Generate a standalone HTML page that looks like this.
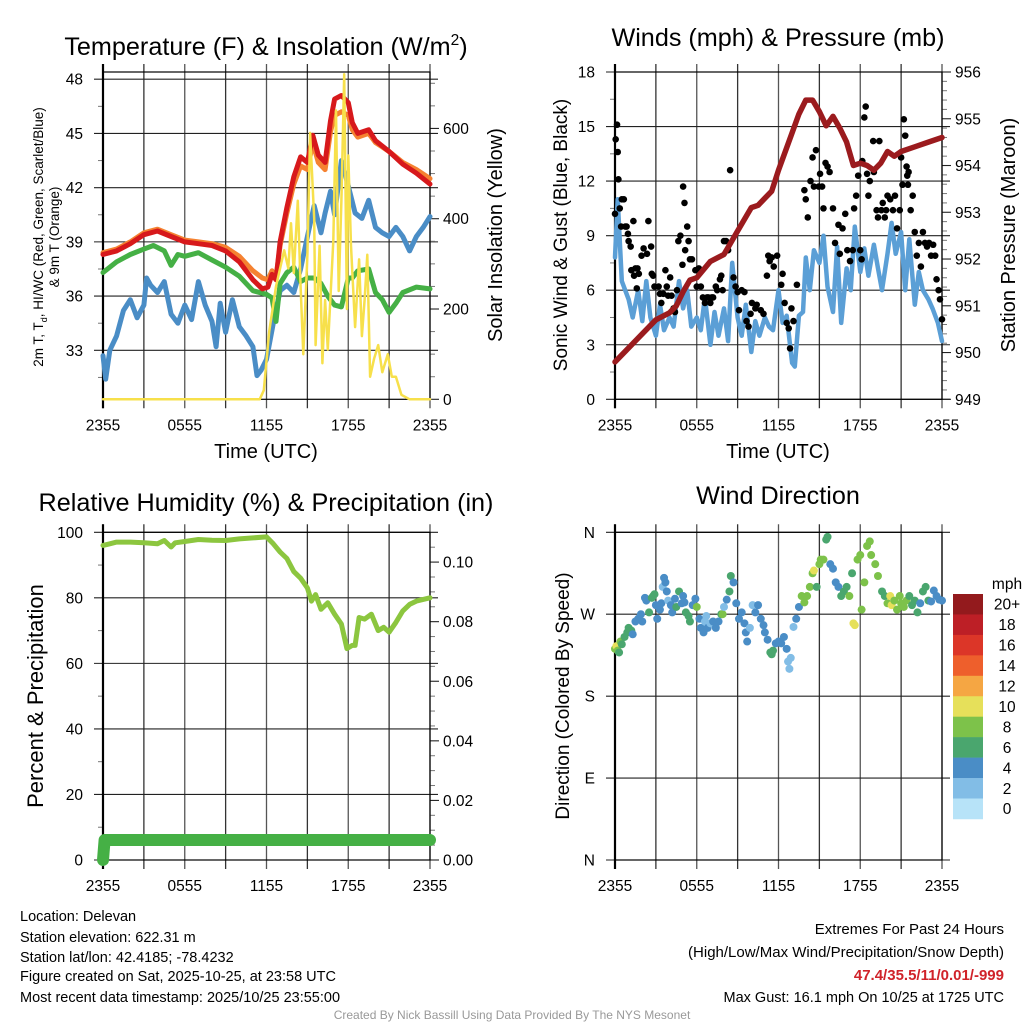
<!DOCTYPE html>
<html><head><meta charset="utf-8"><style>
html,body{margin:0;padding:0;background:#fff;}
svg{display:block;font-family:"Liberation Sans",Arial,sans-serif;}
</style></head><body>
<svg id="chart" width="1024" height="1024" viewBox="0 0 1024 1024" xmlns="http://www.w3.org/2000/svg"></svg>
<script>
// ---------- data ----------
const tTimes=[0,1,2,3,4,5,6,7,8,9,10,11,11.7,12.1,12.4,12.7,13,13.5,14,14.5,15,15.4,15.8,16.3,16.7,17,17.5,18,18.3,18.7,19.5,20,21,22,23,24];
const tRed=[38.3,38.5,38.9,39.4,39.6,39.3,39.0,38.9,38.8,38.5,37.9,36.9,36.4,36.5,37.2,36.9,39.0,40.9,42.6,43.7,43.4,44.9,43.8,43.4,45.7,46.9,47.1,46.7,45.6,45.0,45.2,44.6,44.0,43.3,42.8,42.2];
const tOrange=[38.4,38.6,39.0,39.5,39.7,39.4,39.1,39.0,38.9,38.7,38.2,37.4,37.0,36.9,37.4,37.0,38.8,40.6,42.2,43.2,43.0,44.5,43.4,43.0,45.1,46.0,46.2,46.0,45.2,44.8,45.0,44.5,44.0,43.4,43.0,42.5];
const gTimes=[0,1,2,3,3.7,4.5,5,5.5,6,7,8,9,10,11,12,12.4,12.7,13,13.5,14,14.5,15,15.5,16,16.5,17,17.5,18,18.3,18.7,19.5,20,20.5,21,21.5,22,23,24];
const tGreen=[37.3,37.9,38.3,38.6,38.8,38.5,37.7,38.3,38.2,38.4,38.0,37.6,37.1,36.3,36.1,35.9,34.6,36.7,37.3,37.6,36.8,37.0,37.0,36.7,36.0,35.5,35.4,37.0,37.0,37.4,37.5,36.2,35.8,35.1,35.6,36.2,36.5,36.4];
const bTimes=[0,0.2,0.5,1,1.5,2,2.5,3,3.2,3.5,4,4.5,5,5.5,6,6.5,7,7.5,8,8.3,8.6,9,9.5,10,10.5,11,11.3,11.6,12,12.5,13,13.5,14,14.5,15,15.5,16,16.3,16.7,17,17.5,18,18.5,19,19.5,20,20.5,21,21.5,22,22.5,23,23.5,24];
const tBlue=[32.7,31.4,33.0,33.8,35.2,35.8,34.8,35.5,37.0,36.6,36.2,36.8,35.0,34.5,35.5,34.7,36.8,35.5,34.6,33.2,35.6,34.0,35.8,34.3,33.8,33.2,31.6,31.9,32.5,34.5,36.3,36.6,36.2,37.5,39.3,41.0,39.5,40.6,41.8,40.5,43.5,42.1,40.6,40.3,41.3,39.8,39.5,39.3,39.8,39.3,38.5,39.3,39.8,40.4];
const sTimes=[0,11.5,11.8,12.2,12.7,13.3,13.6,13.8,14,14.3,14.5,14.7,15,15.2,15.5,15.6,15.9,16.1,16.3,16.5,16.9,17.1,17.3,17.5,17.7,17.9,18,18.2,18.5,18.8,19,19.2,19.4,19.6,19.9,20.2,20.5,20.9,21.2,21.5,21.9,22.5,24];
const solar=[0,0,20,150,250,330,290,390,280,440,250,100,320,590,400,120,340,80,220,110,350,640,240,440,720,200,540,340,160,310,140,220,320,50,90,120,60,100,50,50,10,0,0];
const pTimes=[0,0.5,1,2,2.5,3,4,4.5,5,5.5,6,7,8,8.5,9,10,10.5,11,11.5,12,13,13.5,14,14.5,15,15.5,16,16.5,17,17.5,18,18.5,19,19.5,20,20.5,21,22,23,24];
const pressure=[949.8,949.95,950.1,950.4,950.55,950.7,950.85,951.0,951.3,951.55,951.6,951.95,952.1,952.35,952.6,953.1,953.15,953.3,953.45,953.9,954.7,955.1,955.4,955.4,955.15,954.85,955.05,954.8,954.5,954.0,954.05,954.0,953.9,954.05,954.3,954.2,954.3,954.4,954.5,954.6];
const wTimes=[0,0.2,0.5,1,1.3,1.7,2,2.3,2.6,3,3.3,3.6,4,4.3,4.7,5,5.3,5.6,6,6.3,6.6,7,7.3,7.6,8,8.3,8.6,9,9.3,9.6,10,10.3,10.6,11,11.3,11.6,12,12.3,12.6,13,13.2,13.5,13.8,14,14.3,14.6,15,15.3,15.6,16,16.3,16.6,17,17.3,17.6,18,18.3,18.6,19,19.3,19.6,20,20.3,20.6,21,21.3,21.6,22,22.3,22.6,23,23.3,23.7,24];
const windSpd=[7.8,11,6.5,5.5,4.5,6.0,4.3,6.5,4.5,3.5,5.2,3.8,4.5,4.0,6.5,5.0,6.0,4.0,4.5,3.8,5.6,3.0,4.8,3.5,5.0,3.2,7.5,4.5,3.5,5.2,2.6,4.3,3.5,4.5,4.0,3.8,6.0,4.2,4.6,2.0,1.8,4.6,4.8,7.8,6.0,8.2,7.5,9.0,6.2,4.8,8.4,4.2,7.2,6.0,9.5,7.0,8.3,6.8,8.5,7.2,6.0,8.0,9.7,8.0,9.2,6.0,8.8,5.2,7.0,6.0,5.5,5.0,4.2,3.2];
const gustTimes=[0,0.05,0.15,0.2,0.25,0.35,0.5,0.65,0.45,0.75,0.85,0.95,1.0,1.15,1.35,1.2,1.4,1.5,1.65,1.75,1.6,1.95,2.1,2.35,2.45,2.65,2.7,2.8,2.9,3.2,3.3,3.4,3.55,3.7,3.8,3.9,4.05,4.15,4.3,4.4,4.55,4.65,4.8,4.95,5.0,5.1,5.15,5.3,5.4,5.5,5.65,5.9,6.0,6.15,6.3,6.45,6.6,6.75,6.85,7.0,7.1,7.2,7.4,7.5,7.7,7.8,7.9,8.0,8.15,8.3,8.45,8.7,8.85,9.0,9.1,9.3,9.5,9.65,9.8,9.95,10.05,10.3,10.4,10.7,10.9,11.15,11.25,11.35,11.5,11.65,11.9,12.2,12.3,12.45,12.6,12.75,12.85,12.95,13.1,13.35,13.9,14.0,14.15,14.35,14.5,14.6,14.75,14.95,15.05,15.2,15.3,15.45,15.6,15.75,16.0,16.15,16.4,16.5,16.7,16.9,17.05,17.25,17.45,17.55,17.7,17.85,18.0,18.1,18.15,18.3,18.4,18.5,18.6,18.7,18.95,19.0,19.2,19.3,19.4,19.55,19.65,19.8,19.9,20.0,20.2,20.4,20.55,20.7,20.9,21.0,21.1,21.2,21.3,21.4,21.45,21.5,21.55,21.7,21.85,22.0,22.15,22.3,22.45,22.6,22.75,22.9,23.05,23.2,23.35,23.5,23.6,23.75,23.85,24.0];
const gustSpd=[10.2,14.3,15.1,13.6,12.1,10.5,11,11,9.5,9.5,9.5,9.1,8.7,8.4,9.8,7.1,6.8,7.2,7.2,6.9,6.1,7.9,8.3,8.0,9.8,8.4,6.9,6.8,6.2,6.2,5.8,5.3,5.8,7.1,6.2,5.7,6.7,5.7,5.0,4.8,6.0,8.7,9.0,7.4,11.7,10.8,8.2,9.5,8.7,7.7,7.7,7.1,6.2,7.2,6.2,5.6,5.3,5.6,5.6,5.3,5.6,5.6,6.2,6.0,6.6,6.8,6.0,8.7,8.7,8.2,12.6,6.7,6.2,5.9,4.9,6.0,5.9,4.3,4.0,4.7,5.3,5.0,5.2,4.9,4.7,6.8,7.9,7.6,7.8,7.3,7.9,6.3,6.9,5.3,4.2,3.9,2.8,5.0,4.3,6.3,11.5,11.0,10.0,12.0,13.3,11.7,13.7,11.7,12.4,11.7,10.5,13.0,12.8,12.5,10.5,8.6,9.6,8.0,9.4,10.2,8.2,7.6,8.2,10.5,11.2,12.3,8.2,7.7,13.1,15.5,16.1,12.4,11.2,12.0,14.2,12.5,10.4,10.0,14.2,10.4,10.8,10.0,10.4,11.2,11.0,10.4,11.2,9.4,10.4,13.3,11.8,15.4,14.5,12.8,12.3,11.8,12.5,10.4,11.2,9.2,7.9,8.6,7.3,9.2,8.6,8.4,8.6,7.9,8.5,7.9,6.6,6.0,5.5,4.4];
const rhTimes=[0,0.5,1,2,3,4,4.5,5,5.3,6,7,8,9,10,11,12,12.5,13,13.5,14,14.5,15,15.3,15.6,16,16.5,17,17.5,17.9,18.3,18.5,18.8,19.2,19.7,20.2,20.6,21,21.5,22,22.5,23,24];
const rh=[96,96.5,97,97,96.8,96.5,97.5,95.5,96.8,97.2,97.8,97.6,97.5,98,98.3,98.6,96.5,94,92,88,86,83,79,81,76.5,78.5,75,72,64.5,65.5,65.5,74,73.5,75,70,71,69.5,72.5,76,78,79,80];
const precipTimes=[0,0.05,0.12,24];
const precip=[0,0.003,0.0067,0.0067];
const dirTimes=[0,0.1,0.2,0.3,0.4,0.5,0.7,0.9,1.0,1.2,1.3,1.5,1.7,1.9,2.0,2.2,2.3,2.5,2.7,2.8,2.9,3.0,3.1,3.3,3.4,3.5,3.6,3.7,3.8,3.9,4.1,4.2,4.4,4.5,4.7,4.9,5.0,5.1,5.2,5.4,5.5,5.7,5.9,6.0,6.2,6.3,6.5,6.6,6.7,6.8,7.0,7.2,7.4,7.6,7.8,7.9,8.0,8.2,8.4,8.5,8.7,8.9,9.1,9.3,9.5,9.6,9.7,9.9,10.1,10.3,10.5,10.7,10.9,11.0,11.2,11.4,11.5,11.6,11.8,12.0,12.2,12.4,12.6,12.7,12.8,12.9,13.1,13.3,13.5,13.7,13.9,14.1,14.3,14.5,14.6,14.8,15.0,15.1,15.3,15.5,15.6,15.8,16.0,16.2,16.4,16.6,16.8,17.0,17.2,17.4,17.5,17.6,17.8,18.0,18.1,18.3,18.5,18.7,18.8,19.1,19.3,19.6,19.8,20.0,20.2,20.3,20.5,20.7,20.9,21.0,21.2,21.4,21.6,21.8,22.0,22.2,22.4,22.6,22.8,23.0,23.2,23.4,23.6,23.8,24.0];
const dirDeg=[232,235,230,228,240,237,245,250,255,252,248,262,265,270,262,288,285,272,288,290,292,280,265,275,282,300,310,305,295,285,280,272,287,278,295,282,290,283,272,268,262,280,287,278,265,255,250,262,268,255,260,262,255,262,270,270,278,286,295,312,305,282,265,272,260,250,240,255,280,272,280,265,258,250,242,228,226,230,238,240,238,245,232,218,210,222,256,265,278,290,283,290,300,315,318,300,325,330,330,352,355,325,320,305,300,290,295,300,290,315,260,258,330,335,275,305,345,350,335,325,312,295,290,282,290,280,285,275,290,282,278,285,290,280,285,272,282,295,300,285,284,296,290,286,285];
const dirSpd=[8,10,8,7,8,6,6,6,6,6,4,4,4,4,4,4,4,6,6,6,6,4,4,4,4,3,4,4,4,3,4,4,4,6,6,4,4,4,6,6,6,4,4,8,4,4,4,3,3,4,3,4,4,4,6,8,3,4,6,6,4,4,4,4,4,4,4,3,3,4,4,4,4,4,4,6,6,6,4,4,4,4,4,3,3,3,3,4,4,8,8,8,8,8,10,6,8,8,8,6,6,4,4,4,4,6,6,6,8,6,10,10,8,8,8,8,8,8,8,8,8,6,6,8,10,10,8,8,8,8,8,8,6,6,6,6,4,6,6,6,4,4,4,4,4,4];
const cbLabels=["20+","18","16","14","12","10","8","6","4","2","0"];
const cbColors=["#931a1d","#bd1f26","#dc3628","#ee5f2c","#f5a643","#e6e05a","#7dc24a","#4aa66e","#4a8dc6","#82bde6","#b7e3f8"];
const xTickLabels=["2355","0555","1155","1755","2355"];

// ---------- helpers ----------
const NS="http://www.w3.org/2000/svg";
const svg=document.getElementById('chart');
function mk(tag,attrs,parent){const e=document.createElementNS(NS,tag);for(const k in attrs)e.setAttribute(k,attrs[k]);(parent||svg).appendChild(e);return e;}
function txt(x,y,s,size,anchor,parent,extra){const e=mk('text',Object.assign({x:x,y:y,'font-size':size,'text-anchor':anchor||'middle',fill:'#000'},extra||{}),parent);e.textContent=s;return e;}
function lin(d0,d1,r0,r1){return v=>r0+(v-d0)/(d1-d0)*(r1-r0);}
function polyline(xs,ys,xf,yf,color,w,parent,name){
  const pts=xs.map((t,i)=>xf(t).toFixed(1)+','+yf(ys[i]).toFixed(1)).join(' ');
  const p=mk('polyline',{points:pts,fill:'none',stroke:color,'stroke-width':w,'stroke-linejoin':'round','stroke-linecap':'round'},parent);
  
  
  return p;
}
function panel(name){
  const g=mk('g',{});
  
  
  return g;
}
function frame(g,L,T,R,B,leftMajor,leftY,leftLabels,leftMinor,rightMajor,rightY,rightLabels,rightMinor){
  const grid=mk('g',{},g);
  
  
  for(let i=0;i<=8;i++){const x=L+(R-L)*i/8;
    mk('line',{x1:x,y1:T-8,x2:x,y2:B+9,stroke:i%2?'#333':'#555','stroke-width':1.3},grid);}
  leftMajor.forEach((v,i)=>{const y=leftY(v);
    mk('line',{x1:L-9,y1:y,x2:R+8,y2:y,stroke:'#222','stroke-width':1.1},grid);
    const t=txt(L-20,y+5.5,leftLabels[i],15.5,'end',g);
    
    });
  leftMinor.forEach(v=>{const y=leftY(v);mk('line',{x1:L-5,y1:y,x2:L,y2:y,stroke:'#777','stroke-width':1},grid);});
  if(rightMajor){
    rightMajor.forEach((v,i)=>{const y=rightY(v);
      mk('line',{x1:R,y1:y,x2:R+9,y2:y,stroke:'#222','stroke-width':1.1},grid);
      const t=txt(R+13,y+5.5,rightLabels[i],15.5,'start',g);
      
      });
    rightMinor.forEach(v=>{const y=rightY(v);mk('line',{x1:R,y1:y,x2:R+5,y2:y,stroke:'#777','stroke-width':1},grid);});
  }
  mk('rect',{x:L,y:T,width:R-L,height:B-T,fill:'none',stroke:'#000','stroke-width':1.2},g);
  mk('line',{x1:L,y1:T-8,x2:L,y2:B+9,stroke:'#000','stroke-width':2.2},g);
  xTickLabels.forEach((s,i)=>{const t=txt(L+(R-L)*i/4,B+31,s,15.5,'middle',g);
    
    });
}
function vtitle(x,y,s,size,parent,name){const t=txt(x,y,s,size,'middle',parent,{transform:`rotate(-90 ${x} ${y})`});
  return t;}

// ---------- Panel 1: Temperature ----------
(function(){
  const L=103,T=72,R=430,B=399.3;
  const g=panel('temperature-panel');
  const x=lin(0,24,L,R), y=lin(30.29,48.4,B,T), yr=lin(0,725,B,T);
  frame(g,L,T,R,B,[33,36,39,42,45,48],y,["33","36","39","42","45","48"],[31.5,34.5,37.5,40.5,43.5,46.5],
    [0,200,400,600],yr,["0","200","400","600"],[50,100,150,250,300,350,450,500,550,650,700]);
  const ti=txt(266,55,'Temperature (F) & Insolation (W/m',25.2,'middle',g);
  const sup=mk('tspan',{'font-size':15.5,dy:-10},ti);sup.textContent='2';
  const cl=mk('tspan',{'font-size':25.2,dy:10},ti);cl.textContent=')';
  
  const at=txt(266,458,'Time (UTC)',20,'middle',g);
  const lt=mk('text',{x:43,y:237,'font-size':13.5,'text-anchor':'middle',transform:'rotate(-90 43 237)'},g);
  lt.innerHTML='2m T, T<tspan font-size="9" dy="4">d</tspan><tspan dy="-4">, HI/WC (Red, Green, Scarlet/Blue)</tspan>';
  
  const lt2=txt(59,237,'& 9m T (Orange)',13.5,'middle',g,{transform:'rotate(-90 59 237)'});
  
  vtitle(502,235,'Solar Insolation (Yellow)',20,g,'insolation-axis-title');
  polyline(bTimes,tBlue,x,y,'#4a8dc6',5,g,'scarlet-blue-line');
  polyline(gTimes,tGreen,x,y,'#45b045',5,g,'green-line');
  polyline(tTimes,tOrange,x,y,'#f58231',5,g,'orange-9m-temp-line');
  polyline(tTimes,tRed,x,y,'#d7191c',5,g,'red-2m-temp-line');
  polyline(sTimes,solar,x,yr,'#f7e04b',2.5,g,'solar-insolation-line');
})();

// ---------- Panel 2: Winds ----------
(function(){
  const L=615,T=72,R=942,B=399.3;
  const g=panel('winds-panel');
  const x=lin(0,24,L,R), y=lin(0,18,B,T), yp=lin(949,956,B,T);
  frame(g,L,T,R,B,[0,3,6,9,12,15,18],y,["0","3","6","9","12","15","18"],[1.5,4.5,7.5,10.5,13.5,16.5],
    [949,950,951,952,953,954,955,956],yp,["949","950","951","952","953","954","955","956"],
    [949.2,949.4,949.6,949.8,950.2,950.4,950.6,950.8,951.2,951.4,951.6,951.8,952.2,952.4,952.6,952.8,953.2,953.4,953.6,953.8,954.2,954.4,954.6,954.8,955.2,955.4,955.6,955.8]);
  const ti=txt(778,46,'Winds (mph) & Pressure (mb)',25.2,'middle',g);
  const at=txt(778,458,'Time (UTC)',20,'middle',g);
  vtitle(567,235,'Sonic Wind & Gust (Blue, Black)',19,g,'wind-axis-title');
  vtitle(1015,235,'Station Pressure (Maroon)',20,g,'pressure-axis-title');
  polyline(wTimes,windSpd,x,y,'#5b9fd6',4.5,g,'sonic-wind-line');
  gustTimes.forEach((t,i)=>{const c=mk('circle',{cx:x(t),cy:y(gustSpd[i]),r:3.3,fill:'#000'},g);
    
    });
  polyline(pTimes,pressure,x,yp,'#9b1b1e',5.5,g,'pressure-line');
})();

// ---------- Panel 3: RH ----------
(function(){
  const L=103,T=532.3,R=430,B=860;
  const g=panel('humidity-panel');
  const x=lin(0,24,L,R), y=lin(0,100,B,T), yr=lin(0,0.11,B,T);
  frame(g,L,T,R,B,[0,20,40,60,80,100],y,["0","20","40","60","80","100"],[10,30,50,70,90],
    [0,0.02,0.04,0.06,0.08,0.10],yr,["0.00","0.02","0.04","0.06","0.08","0.10"],[0.005,0.01,0.015,0.025,0.03,0.035,0.045,0.05,0.055,0.065,0.07,0.075,0.085,0.09,0.095,0.105]);
  const ti=txt(266,511,'Relative Humidity (%) & Precipitation (in)',25.2,'middle',g);
  vtitle(43,696,'Percent & Precipitation',22,g,'percent-axis-title');
  polyline(rhTimes,rh,x,y,'#8cc63f',5,g,'relative-humidity-line');
  polyline(precipTimes,precip,x,yr,'#45b045',12,g,'precipitation-line');
})();

// ---------- Panel 4: Wind direction ----------
(function(){
  const L=615,T=532.3,R=942,B=860;
  const g=panel('wind-direction-panel');
  const x=lin(0,24,L,R), y=lin(0,360,B,T);
  frame(g,L,T,R,B,[0,90,180,270,360],y,["N","E","S","W","N"],[],null);
  const ti=txt(778,504,'Wind Direction',25.2,'middle',g);
  vtitle(569,696,'Direction (Colored By Speed)',19,g,'direction-axis-title');
  dirTimes.forEach((t,i)=>{const idx=Math.min(10,Math.floor(dirSpd[i]/2));
    const c=mk('circle',{cx:x(t),cy:y(dirDeg[i]),r:4,fill:cbColors[10-idx]},g);
    
    });
  const cb=mk('g',{},g);
  
  
  const mt=txt(1007,589,'mph',15.5,'middle',cb);
  const h=20.45;
  cbLabels.forEach((s,i)=>{const r=mk('rect',{x:953,y:594+i*h,width:30,height:h+0.3,fill:cbColors[i]},cb);
    
    
    const t=txt(1007,594+i*h+h/2+5.5,s,15.5,'middle',cb);
    
    });
})();

// ---------- footer ----------
(function(){
  const g=mk('g',{});
  
  
  const left=["Location: Delevan","Station elevation: 622.31 m","Station lat/lon: 42.4185; -78.4232","Figure created on Sat, 2025-10-25, at 23:58 UTC","Most recent data timestamp: 2025/10/25 23:55:00"];
  const ly=[921,942,962,981,1002];
  left.forEach((s,i)=>{const t=txt(20,ly[i],s,14.5,'start',g);});
  const r1=txt(1004,934,'Extremes For Past 24 Hours',15,'end',g);
  const r2=txt(1004,957,'(High/Low/Max Wind/Precipitation/Snow Depth)',15,'end',g);
  const r3=txt(1004,980,'47.4/35.5/11/0.01/-999',15,'end',g,{fill:'#d0232a','font-weight':'bold'});
  const r4=txt(1004,1002,'Max Gust: 16.1 mph On 10/25 at 1725 UTC',14.5,'end',g);
  const c=txt(512,1019,'Created By Nick Bassill Using Data Provided By The NYS Mesonet',12,'middle',g,{fill:'#999'});
})();
</script>
</body></html>
